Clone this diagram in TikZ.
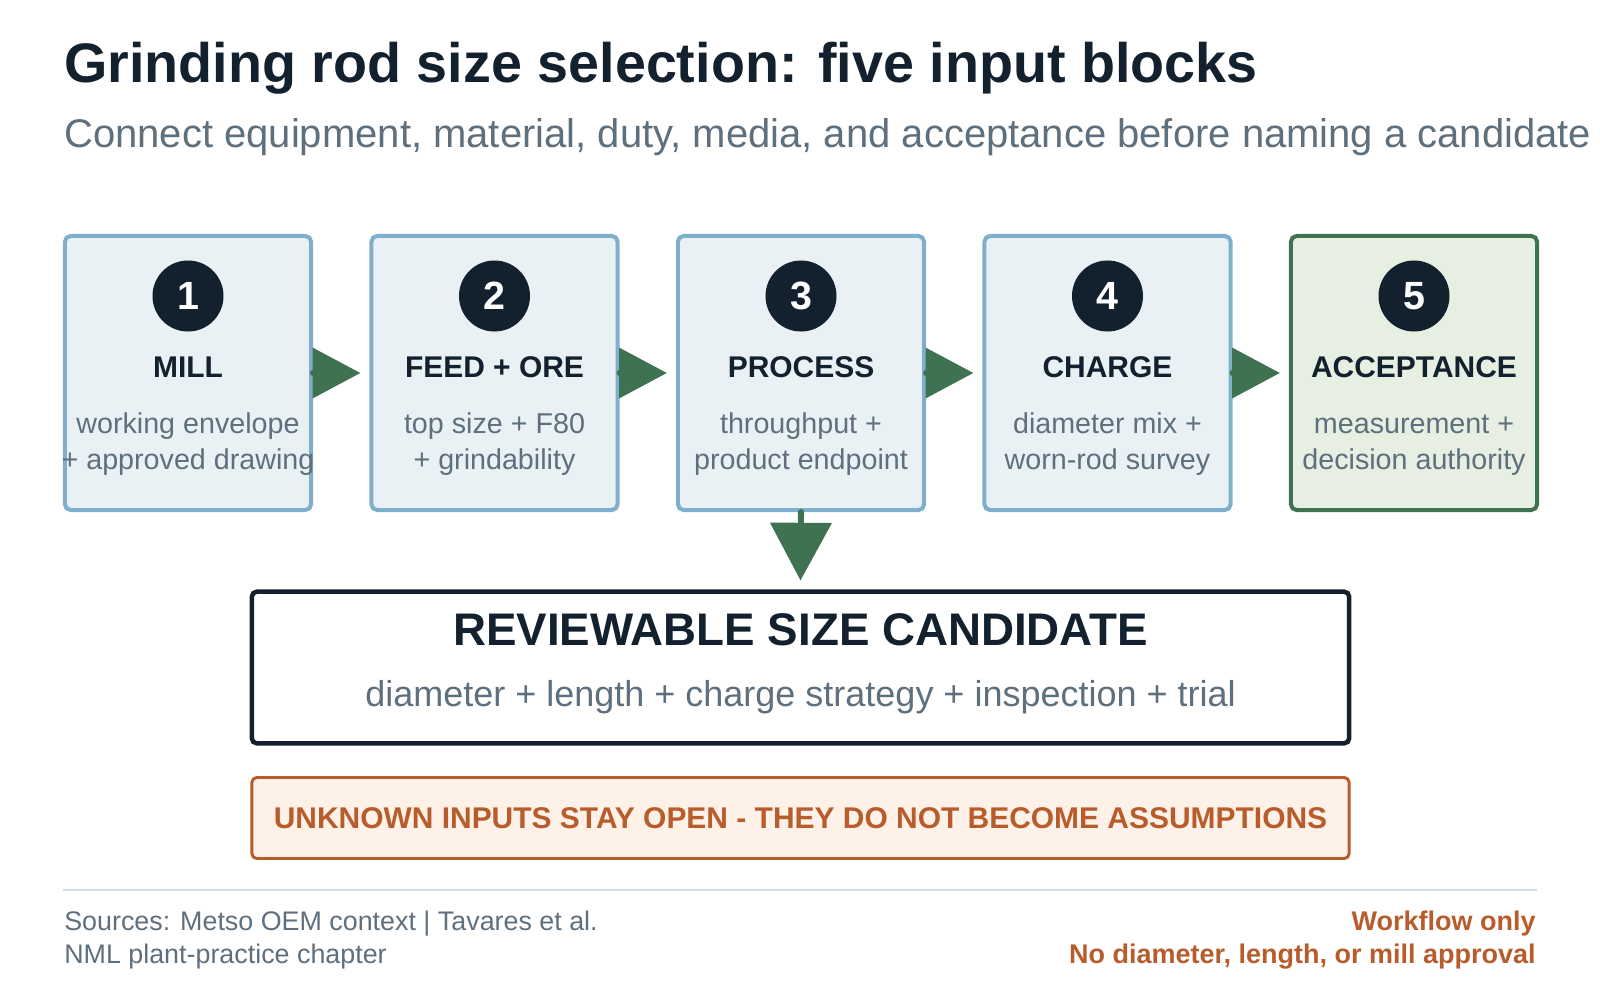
\documentclass[tikz,border=0pt]{standalone}
\usepackage{fontspec}
\setmainfont{Liberation Sans}
\usetikzlibrary{calc,arrows.meta,positioning}
\definecolor{inkdark}{HTML}{13212E}
\definecolor{inkgray}{HTML}{5E6F7E}
\definecolor{blueline}{HTML}{7FAFCC}
\definecolor{bluefill}{HTML}{EAF1F5}
\definecolor{greenline}{HTML}{3F7250}
\definecolor{greenfill}{HTML}{E7EFE2}
\definecolor{rust}{HTML}{B95C2C}
\definecolor{rustfill}{HTML}{FEF1E8}
\definecolor{ruleline}{HTML}{D5DFE7}
\def\fs#1#2{\fontsize{#1}{#2}\selectfont}

\tikzset{
	inbox/.style={draw=blueline, fill=bluefill, line width=2.85pt, rounded corners=4pt, minimum width=6.15cm, minimum height=6.85cm, inner sep=0pt},
	okbox/.style={inbox, draw=greenline, fill=greenfill},
	numdot/.style={circle, fill=inkdark, text=white, minimum size=1.775cm, inner sep=0pt, font=\fs{28}{28}\bfseries},
	boxhead/.style={anchor=base, text=inkdark, inner sep=0pt, font=\fs{21.3}{25}\bfseries},
	boxbody/.style={anchor=base, align=center, text=inkgray, inner sep=0pt, font=\fs{20.4}{25.6}},
	flow/.style={draw=greenline, fill=greenline, line width=4.3pt, line cap=round, -{Triangle[length=34pt,width=35pt]}},
	flowdown/.style={flow, -{Triangle[length=41pt,width=43pt]}},
	candbox/.style={draw=inkdark, fill=white, line width=3.2pt, rounded corners=3.5pt, minimum width=27.425cm, minimum height=3.79cm},
	openbox/.style={draw=rust, fill=rustfill, line width=2.1pt, rounded corners=3.5pt, minimum width=27.425cm, minimum height=2.025cm, text=rust, font=\fs{21.3}{25}\bfseries}
}

\begin{document}
\begin{tikzpicture}[x=0.025cm, y=-0.025cm]
		%%%%% START %%%%%
		\useasboundingbox (0,0) rectangle (1600,1000);
		
		\node[anchor=base west, inner sep=0pt, text=inkdark, font=\fs{39.6}{44}\bfseries] (title) at (64,82) {Grinding rod size selection: five input blocks};
		\node[anchor=base west, inner sep=0pt, text=inkgray, font=\fs{28.45}{32}] (subtitle) at (64,147) {Connect equipment, material, duty, media, and acceptance before naming a candidate};
		
		\node[inbox] (b1) at (188,373) {};
		\node[numdot] (n1) at (188,296) {1};
		\node[boxhead] (h1) at (188,377) {MILL};
		\node[boxbody] (t1) at (188,469) {working envelope\\+ approved drawing};
		
		\node[inbox] (b2) at (494.5,373) {};
		\node[numdot] (n2) at (494.5,296) {2};
		\node[boxhead] (h2) at (494.5,377) {FEED + ORE};
		\node[boxbody] (t2) at (494.5,469) {top size + F80\\+ grindability};
		
		\node[inbox] (b3) at (801,373) {};
		\node[numdot] (n3) at (801,296) {3};
		\node[boxhead] (h3) at (801,377) {PROCESS};
		\node[boxbody] (t3) at (801,469) {throughput +\\product endpoint};
		
		\node[inbox] (b4) at (1107.5,373) {};
		\node[numdot] (n4) at (1107.5,296) {4};
		\node[boxhead] (h4) at (1107.5,377) {CHARGE};
		\node[boxbody] (t4) at (1107.5,469) {diameter mix +\\worn-rod survey};
		
		\node[okbox] (b5) at (1414,373) {};
		\node[numdot] (n5) at (1414,296) {5};
		\node[boxhead] (h5) at (1414,377) {ACCEPTANCE};
		\node[boxbody] (t5) at (1414,469) {measurement +\\decision authority};
		
		\draw[flow] (b1.east) -- ($(b2.west)+(-9,0)$);
		\draw[flow] (b2.east) -- ($(b3.west)+(-9,0)$);
		\draw[flow] (b3.east) -- ($(b4.west)+(-9,0)$);
		\draw[flow] (b4.east) -- ($(b5.west)+(-9,0)$);
		
		\node[candbox] (cand) at (800.5,667.5) {};
		\node[anchor=base, inner sep=0pt, text=inkdark, font=\fs{32.5}{36}\bfseries] (candhead) at (800.5,645) {REVIEWABLE SIZE CANDIDATE};
		\node[anchor=base, inner sep=0pt, text=inkgray, font=\fs{25.6}{30}] (candbody) at (800.5,706) {diameter + length + charge strategy + inspection + trial};
		
		\draw[flowdown] (b3.south) -- ($(cand.north)+(0,-9)$);
		
		\node[openbox] (open) at (800.5,818) {UNKNOWN INPUTS STAY OPEN - THEY DO NOT BECOME ASSUMPTIONS};
		
		\draw[draw=ruleline, line width=2pt] (63,890) -- (1537,890);
		
		\node[anchor=base west, align=left, inner sep=0pt, text=inkgray, font=\fs{19.1}{22.8}] (sources) at (64,963) {Sources: Metso OEM context | Tavares et al.\\NML plant-practice chapter};
		\node[anchor=base east, align=right, inner sep=0pt, text=rust, font=\fs{19.2}{22.8}\bfseries] (scope) at (1536,963) {Workflow only\\No diameter, length, or mill approval};
		
		%%%%% END %%%%%
\end{tikzpicture}
\end{document}
